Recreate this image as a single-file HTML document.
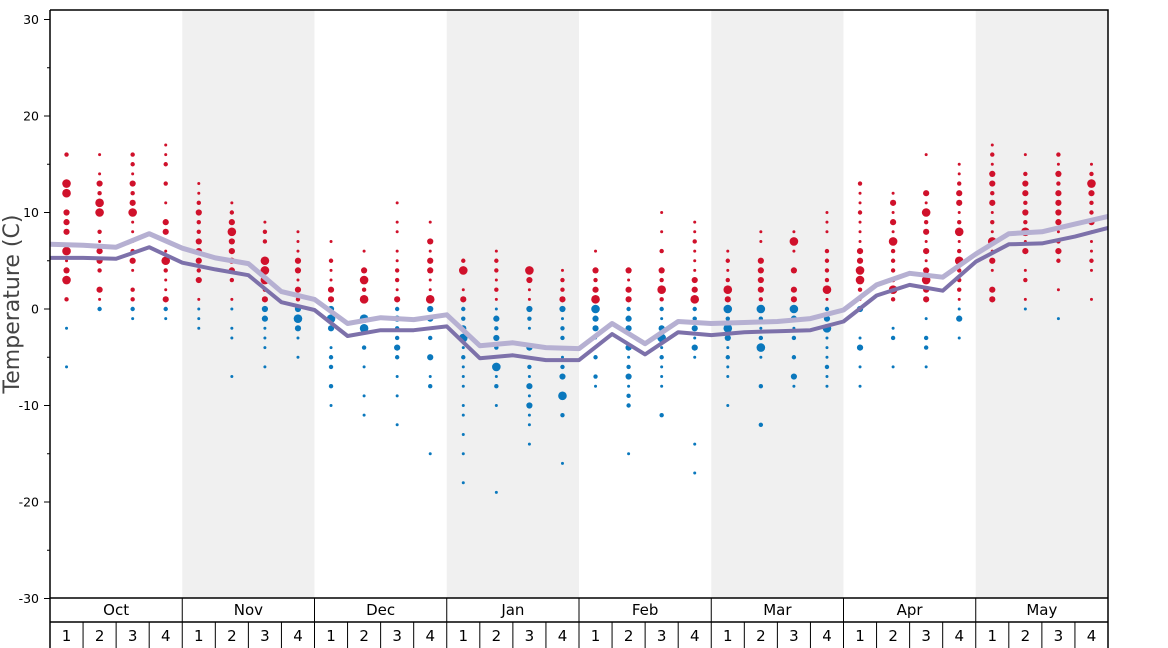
<!DOCTYPE html>
<html><head><meta charset="utf-8"><style>
body{margin:0;background:#fff;}
svg{display:block;font-family:"DejaVu Sans","Liberation Sans",sans-serif;}
</style></head><body>
<svg id="chart" width="1168" height="648" viewBox="0 0 1168 648">
<g id="bands"></g>
<g id="yaxis"></g>
<g id="dots"></g>
<g id="lines"></g>
<g id="xaxis"></g>
<text x="19" y="304" transform="rotate(-90 19 304)" text-anchor="middle" font-size="22" fill="#444">Temperature (C)</text>
</svg>
<script>
const months = ["Oct","Nov","Dec","Jan","Feb","Mar","Apr","May"];
const weekLabels = ["1","2","3","4"];
const yTicks = [30,20,10,0,-10,-20,-30];
const upperLine = [6.7,6.6,6.4,7.8,6.3,5.3,4.7,1.8,1.0,-1.5,-0.9,-1.1,-0.6,-3.8,-3.5,-4.0,-4.1,-1.5,-3.6,-1.3,-1.5,-1.4,-1.3,-1.0,-0.1,2.5,3.7,3.3,5.7,7.8,8.0,8.8,9.6];
const lowerLine = [5.3,5.3,5.2,6.4,4.8,4.1,3.5,0.7,-0.1,-2.8,-2.2,-2.2,-1.8,-5.1,-4.8,-5.3,-5.3,-2.6,-4.7,-2.4,-2.7,-2.4,-2.3,-2.2,-1.3,1.4,2.5,1.9,4.9,6.7,6.8,7.5,8.4];
const weekDots = [
"16:2,13:4,12:4,10:3,9:3,8:3,6:4,5:1,4:3,3:4,1:2,-2:1,-6:1",
"16:1,14:1,13:3,12:2,11:4,10:4,8:2,7:1,6:3,5:3,4:2,2:3,1:1,0:2",
"16:2,15:2,14:1,13:3,12:2,11:3,10:4,9:1,8:1,7:1,6:2,5:3,4:1,2:2,1:2,0:2,-1:1",
"17:1,16:1,15:2,13:2,11:1,9:3,8:3,7:1,6:1,5:4,4:2,3:1,2:1,1:3,0:2,-1:1",
"13:1,12:1,11:2,10:3,9:2,8:2,7:3,6:3,5:3,4:2,3:3,1:1,0:1,-1:1,-2:1",
"11:1,10:2,9:3,8:4,7:3,6:3,5:3,4:3,3:2,1:1,0:1,-2:1,-3:1,-7:1",
"9:1,8:2,7:2,5:4,4:4,3:4,2:2,1:3,0:3,-1:3,-2:1,-3:1,-4:1,-6:1",
"8:1,7:1,6:1,5:3,4:3,3:1,2:3,1:2,0:3,-1:4,-2:3,-3:1,-5:1",
"7:1,5:2,4:1,3:1,2:3,1:3,0:3,-1:4,-2:3,-4:1,-5:2,-6:2,-8:2,-10:1",
"6:1,4:3,3:4,2:2,1:4,-1:4,-2:4,-4:2,-6:1,-9:1,-11:1",
"11:1,9:1,8:1,6:1,5:1,4:2,3:2,2:1,1:3,0:2,-1:3,-2:2,-3:2,-4:3,-5:2,-7:1,-9:1,-12:1",
"9:1,7:3,6:1,5:3,4:3,3:1,2:1,1:4,0:3,-1:3,-2:1,-3:2,-5:3,-7:1,-8:2,-15:1",
"5:2,4:4,2:1,1:3,0:2,-1:2,-2:3,-3:4,-4:1,-5:2,-6:1,-7:1,-8:1,-10:1,-11:1,-13:1,-15:1,-18:1",
"6:1,5:2,4:2,3:1,2:2,1:1,0:1,-1:3,-2:2,-3:3,-4:2,-6:4,-7:1,-8:2,-10:1,-19:1",
"4:4,3:3,2:1,1:1,0:3,-1:2,-2:1,-4:3,-6:2,-7:1,-8:3,-9:1,-10:3,-11:1,-12:1,-14:1",
"4:1,3:2,2:2,1:3,0:3,-1:1,-2:2,-3:2,-5:1,-6:2,-7:3,-9:4,-11:2,-16:1",
"6:1,4:3,3:2,2:3,1:4,0:4,-1:3,-2:3,-3:1,-5:2,-7:2,-8:1",
"4:3,3:1,2:3,1:3,0:2,-1:3,-2:3,-4:3,-5:1,-6:2,-7:3,-8:1,-9:2,-10:2,-15:1",
"10:1,8:1,6:2,4:3,3:2,2:4,1:2,0:2,-1:1,-2:3,-3:4,-4:1,-5:2,-6:1,-7:1,-8:1,-11:2",
"9:1,8:1,7:2,6:1,5:1,4:1,3:3,2:3,1:4,0:2,-1:2,-2:3,-3:1,-4:3,-5:1,-14:1,-17:1",
"6:1,5:2,4:1,3:2,2:4,1:3,0:4,-1:2,-2:4,-3:3,-4:1,-5:2,-6:1,-7:1,-10:1",
"8:1,7:1,5:3,4:3,3:3,2:3,1:2,0:4,-1:2,-2:1,-3:2,-4:4,-5:1,-8:2,-12:2",
"8:1,7:4,6:1,4:3,2:3,1:3,0:4,-1:3,-2:1,-3:2,-5:2,-7:3,-8:1",
"10:1,9:1,8:1,6:2,5:2,4:2,3:2,2:4,1:1,0:2,-1:3,-2:4,-3:1,-4:1,-5:1,-6:2,-7:1,-8:1",
"13:2,12:1,11:1,10:2,9:1,8:1,7:1,6:3,5:3,4:4,3:4,2:2,1:1,0:3,-3:1,-4:3,-6:1,-8:1",
"12:1,11:3,10:1,9:3,8:1,7:4,6:2,5:2,4:2,3:2,2:4,1:2,-2:1,-3:2,-6:1",
"16:1,12:3,11:1,10:4,9:2,8:3,7:1,6:3,5:1,4:3,3:4,2:3,1:3,-1:1,-3:2,-4:2,-6:1",
"15:1,14:1,13:2,12:3,11:3,10:1,9:2,8:4,7:1,6:2,5:4,4:2,3:2,2:2,1:1,0:1,-1:3,-3:1",
"17:1,16:2,15:1,14:3,13:3,12:2,11:3,10:1,9:2,8:1,7:4,6:1,5:3,4:1,2:3,1:3",
"16:1,14:2,13:3,12:3,11:2,10:3,9:2,8:4,7:1,6:3,4:1,3:2,1:1,0:1",
"16:2,15:1,14:3,13:2,12:3,11:3,10:3,9:3,8:1,7:2,6:3,5:2,2:1,-1:1",
"15:1,14:2,13:4,12:3,11:2,10:2,9:3,8:1,7:1,6:1,5:2,4:1,1:1"
];
const NS="http://www.w3.org/2000/svg";
const X0=50,X1=1108,Y0=10,YB=598;
const yS=t=>309-t*9.65;
const wW=(X1-X0)/32, mW=(X1-X0)/8;
const wx=i=>X0+wW*(i+0.5);
const bx=i=>X0+wW*i;
function mk(tag,attrs,parent){const e=document.createElementNS(NS,tag);for(const k in attrs)e.setAttribute(k,attrs[k]);parent.appendChild(e);return e;}
const bands=document.getElementById('bands'),ya=document.getElementById('yaxis'),dg=document.getElementById('dots'),lg=document.getElementById('lines'),xa=document.getElementById('xaxis');
months.forEach((m,i)=>{if(i%2==1){const r=mk('rect',{x:X0+mW*i,y:Y0,width:mW,height:YB-Y0,fill:'#f0f0f0'},bands);

}});
yTicks.forEach(t=>{const y=yS(t);
const l=mk('line',{x1:X0-6,x2:X0,y1:y,y2:y,stroke:'#000','stroke-width':1},ya);


const tx=mk('text',{x:X0-11,y:y+4.5,'text-anchor':'end','font-size':12.5,fill:'#000'},ya);tx.textContent=t;


if(t>-30){const m2=mk('line',{x1:X0-3,x2:X0,y1:yS(t-5),y2:yS(t-5),stroke:'#000','stroke-width':1},ya);

}});
const rr=[0,1.5,2.2,3.1,4.3];
weekDots.forEach((s,i)=>{s.split(',').forEach(p=>{const [t,sz]=p.split(':').map(Number);
const c=mk('circle',{cx:wx(i),cy:yS(t),r:rr[sz],fill:t>0?'#d0112b':'#0a78bd'},dg);

});});
function line(arr,col,w,name){const d=arr.map((v,i)=>(i?'L':'M')+bx(i).toFixed(1)+' '+yS(v).toFixed(1)).join(' ');
const p=mk('path',{d:d,fill:'none',stroke:col,'stroke-width':w,'stroke-linejoin':'round'},lg);

}
line(upperLine,'#b6b0d2',5,'upper-average-line');
line(lowerLine,'#7d71aa',4,'lower-average-line');
const fr=mk('path',{d:`M${X0} ${Y0} H${X1} V648 M${X0} ${Y0} V648 M${X0} ${YB} H${X1} M${X0} 622 H${X1}`,fill:'none',stroke:'#000','stroke-width':1.5},xa);


months.forEach((m,i)=>{const x=X0+mW*i;
if(i>0){const s=mk('line',{x1:x,x2:x,y1:YB,y2:648,stroke:'#000','stroke-width':1},xa);

}
const t=mk('text',{x:x+mW/2,y:615,'text-anchor':'middle','font-size':15,fill:'#000'},xa);t.textContent=m;


weekLabels.forEach((w,j)=>{const k=i*4+j;
if(j>0){const s2=mk('line',{x1:bx(k),x2:bx(k),y1:622,y2:648,stroke:'#000','stroke-width':1},xa);

}
const wt=mk('text',{x:wx(k),y:641,'text-anchor':'middle','font-size':15,fill:'#000'},xa);wt.textContent=w;

});});
</script>
</body></html>
